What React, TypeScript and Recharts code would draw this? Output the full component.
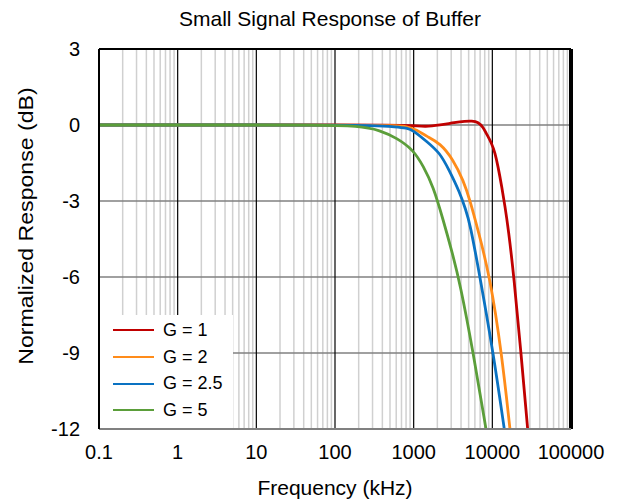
import {
  CartesianGrid,
  Legend,
  Line,
  LineChart,
  ReferenceLine,
  XAxis,
  YAxis,
} from "recharts";

// frequency in kHz, response in dB
const g1Freq = [0.1, 1, 10, 100, 500, 1000, 1400, 2160, 3350, 4500, 5460, 6640, 7670, 8330, 9780, 10810, 11800, 13150, 14480, 15920, 18840, 23130, 28130];
const g1Resp = [0, 0, 0, 0, 0, -0.02, -0.07, 0, 0.1, 0.15, 0.16, 0.12, -0.1, -0.32, -0.71, -1.1, -1.63, -2.42, -3.21, -4.07, -6.0, -9.0, -12];

const g2Freq = [0.1, 1, 10, 100, 300, 600, 815, 1092, 1460, 2160, 3190, 4290, 5180, 6640, 9330, 13150, 16750];
const g2Resp = [0, 0, 0, 0, -0.01, -0.03, -0.05, -0.19, -0.45, -0.71, -1.37, -2.2, -2.95, -4.2, -6.0, -9.0, -12];

const g25Freq = [0.1, 1, 10, 100, 300, 608, 815, 990, 1460, 2160, 2800, 3880, 4580, 5180, 6970, 10280, 14190];
const g25Resp = [0, 0, 0, 0, -0.02, -0.07, -0.12, -0.21, -0.65, -1.1, -1.76, -2.68, -3.34, -3.86, -6.0, -9.0, -12];

const g5Freq = [0.1, 1, 10, 50, 208, 373, 608, 990, 1330, 1770, 2370, 3070, 3880, 5730, 8300];
const g5Resp = [0, 0, 0, 0, -0.03, -0.21, -0.51, -0.98, -1.63, -2.42, -3.74, -5.0, -6.24, -9.0, -12];

const freqTicks = [0.1, 1, 10, 100, 1000, 10000, 100000];
const dbTicks = [-12, -9, -6, -3, 0, 3];
const minorTicks = freqTicks.slice(0, -1).flatMap((d) =>
  [2, 3, 4, 5, 6, 7, 8, 9].map((m) => +(d * m).toPrecision(3))
);

const zip = (f: number[], v: number[]) => f.map((x, i) => ({ f: x, v: v[i] }));

const series = [
  { name: "G = 1", color: "#C00000", data: zip(g1Freq, g1Resp) },
  { name: "G = 2", color: "#FF8C1A", data: zip(g2Freq, g2Resp) },
  { name: "G = 2.5", color: "#0A72C2", data: zip(g25Freq, g25Resp) },
  { name: "G = 5", color: "#5B9E3A", data: zip(g5Freq, g5Resp) },
];

const font = "'Liberation Sans', Arial, sans-serif";

function LegendBox() {
  return (
    <div style={{ background: "#fff", width: 133, height: 113, paddingTop: 2, boxSizing: "border-box" }}>
      {series.map((s) => (
        <div key={s.name} style={{ display: "flex", alignItems: "center", height: 26.7 }}>
          <span style={{ display: "inline-block", marginLeft: 13, width: 41, height: 2, background: s.color }} />
          <span style={{ marginLeft: 9, fontFamily: font, fontSize: 18, color: "#000" }}>{s.name}</span>
        </div>
      ))}
    </div>
  );
}

export default function App() {
  return (
    <div style={{ position: "absolute", left: 0, top: 0, width: 620, height: 504, background: "#fff", fontFamily: font }}>
      <div style={{ position: "absolute", left: 0, width: 660, top: 7, lineHeight: "24px", fontSize: 21, textAlign: "center" }}>
        Small Signal Response of Buffer
      </div>
      <div style={{ position: "absolute", left: 0, width: 670, top: 476, lineHeight: "24px", fontSize: 21, textAlign: "center" }}>
        Frequency (kHz)
      </div>
      <div
        style={{
          position: "absolute",
          left: 26 - 160,
          top: 226 - 12,
          width: 320,
          lineHeight: "24px",
          fontSize: 21,
          textAlign: "center",
          transform: "rotate(-90deg) scaleX(1.1)",
        }}
      >
        Normalized Response (dB)
      </div>
      <LineChart width={620} height={504} margin={{ top: 49, right: 49, bottom: 45, left: 59 }}>
        <XAxis
          xAxisId="minor"
          dataKey="f"
          type="number"
          scale="log"
          domain={[0.1, 100000]}
          ticks={minorTicks}
          interval={0}
          allowDataOverflow
          hide
        />
        <XAxis
          dataKey="f"
          type="number"
          scale="log"
          domain={[0.1, 100000]}
          ticks={freqTicks}
          interval={0}
          allowDataOverflow
          height={30}
          tickSize={0}
          tickMargin={16}
          tickFormatter={(v) => String(v)}
          tick={{ fill: "#000", fontSize: 20, fontFamily: font }}
          axisLine={{ stroke: "#808080", strokeWidth: 2 }}
        />
        <YAxis
          type="number"
          domain={[-12, 3]}
          ticks={dbTicks}
          interval={0}
          allowDataOverflow
          width={40}
          tickSize={0}
          tickMargin={19}
          tick={{ fill: "#000", fontSize: 20, fontFamily: font }}
          axisLine={{ stroke: "#000", strokeWidth: 2 }}
        />
        <CartesianGrid xAxisId="minor" horizontal={false} stroke="#d0d0d0" strokeWidth={1.5} />
        <CartesianGrid vertical={false} stroke="#808080" strokeWidth={1.5} />
        <CartesianGrid horizontal={false} stroke="#000" strokeWidth={1.2} />
        <ReferenceLine y={3} stroke="#000" strokeWidth={2} />
        <ReferenceLine x={100000} stroke="#000" strokeWidth={4} />
        <Legend
          layout="vertical"
          align="center"
          verticalAlign="middle"
          wrapperStyle={{ position: "absolute", left: 100, top: 315, width: 133 }}
          content={() => <LegendBox />}
        />
        {series.map((s) => (
          <Line
            key={s.name}
            data={s.data}
            dataKey="v"
            name={s.name}
            type="basis"
            stroke={s.color}
            strokeWidth={2.8}
            dot={false}
            isAnimationActive={false}
          />
        ))}
      </LineChart>
    </div>
  );
}
